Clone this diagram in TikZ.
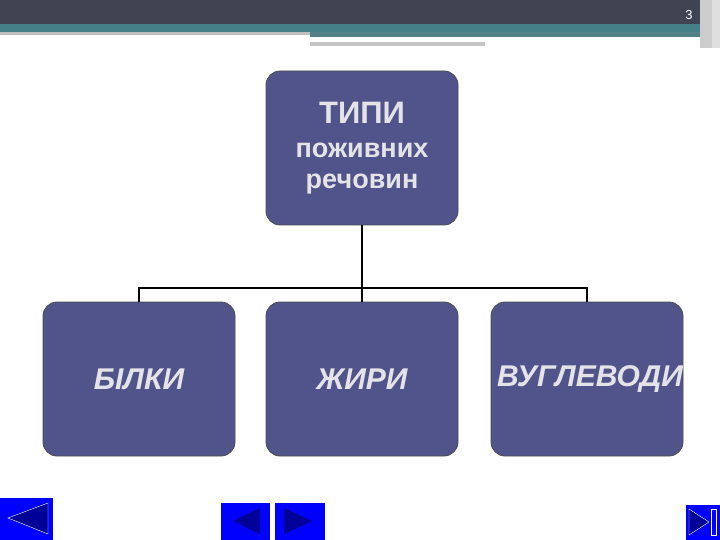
\documentclass[tikz,border=0pt]{standalone}
\usepackage{fontspec}
\setmainfont{Liberation Sans}
\begin{document}
\begin{tikzpicture}[x=1pt,y=-1pt,
  box/.style={draw=black!70,line width=0.8pt,fill=boxc,rounded corners=14pt,minimum width=192pt,minimum height=154pt,inner sep=0pt,text=txtc},
  lab/.style={text=txtc,inner sep=0pt,font=\fontsize{30}{30}\selectfont\bfseries\itshape},
  conn/.style={draw=black,line width=1.5pt},
  btn/.style={fill=blue,draw=none}]
\definecolor{boxc}{HTML}{51548A}
\definecolor{barc}{HTML}{3F4352}
\definecolor{tealc}{HTML}{458089}
\definecolor{txtc}{HTML}{E4E4E8}
\useasboundingbox (0,0) rectangle (720,540);
\fill[white] (0,0) rectangle (720,540);
\fill[barc] (0,0) rectangle (720,24);
\fill[tealc] (0,24) rectangle (705,32);
\fill[gray!50] (0,32) rectangle (310,35);
\fill[tealc!80!gray] (310,32) rectangle (705,37);
\fill[gray!45] (310,42) rectangle (485,46);
\fill[gray!40] (700,0) rectangle (712,48);
\fill[gray!25] (712,0) rectangle (720,48);
\node[text=white,font=\fontsize{13}{13}\selectfont] (pg) at (689,15) {3};
\node[box] (top) at (362,148) {};
\node[text=txtc,font=\fontsize{31}{31}\selectfont\bfseries] (t1) at (362,113) {ТИПИ};
\node[text=txtc,font=\fontsize{27}{27}\selectfont\bfseries] (t2) at (362,150) {поживних};
\node[text=txtc,font=\fontsize{27}{27}\selectfont\bfseries] (t3) at (362,184) {речовин};
\node[box] (b1) at (139,379) {};
\node[box] (b2) at (362,379) {};
\node[box] (b3) at (587,379) {};
\node[lab] (l1) at (139,379) {БІЛКИ};
\node[lab] (l2) at (362,379) {ЖИРИ};
\node[lab] (l3) at (590,379) {ВУГЛЕВОДИ};
\coordinate (j) at (362,288);
\draw[conn] (top.south) -- (j);
\draw[conn] (b1.north) |- (j) -| (b3.north);
\draw[conn] (j) -- (b2.north);
\fill[btn] (0,498) rectangle (53,540);
\draw[white,fill=blue!60!black] (48,503) -- (48,534) -- (8,518) -- cycle;
\fill[btn] (221,503) rectangle (270,540);
\fill[blue!60!black] (260,508) -- (260,534) -- (233,521) -- cycle;
\fill[btn] (275,503) rectangle (325,540);
\fill[blue!60!black] (284,508) -- (284,534) -- (312,521) -- cycle;
\fill[btn] (686,505) rectangle (720,540);
\draw[white,fill=blue!60!black] (689,509) -- (689,535) -- (709,522) -- cycle;
\draw[white] (711,509) rectangle (716,535);
\end{tikzpicture}
\end{document}
